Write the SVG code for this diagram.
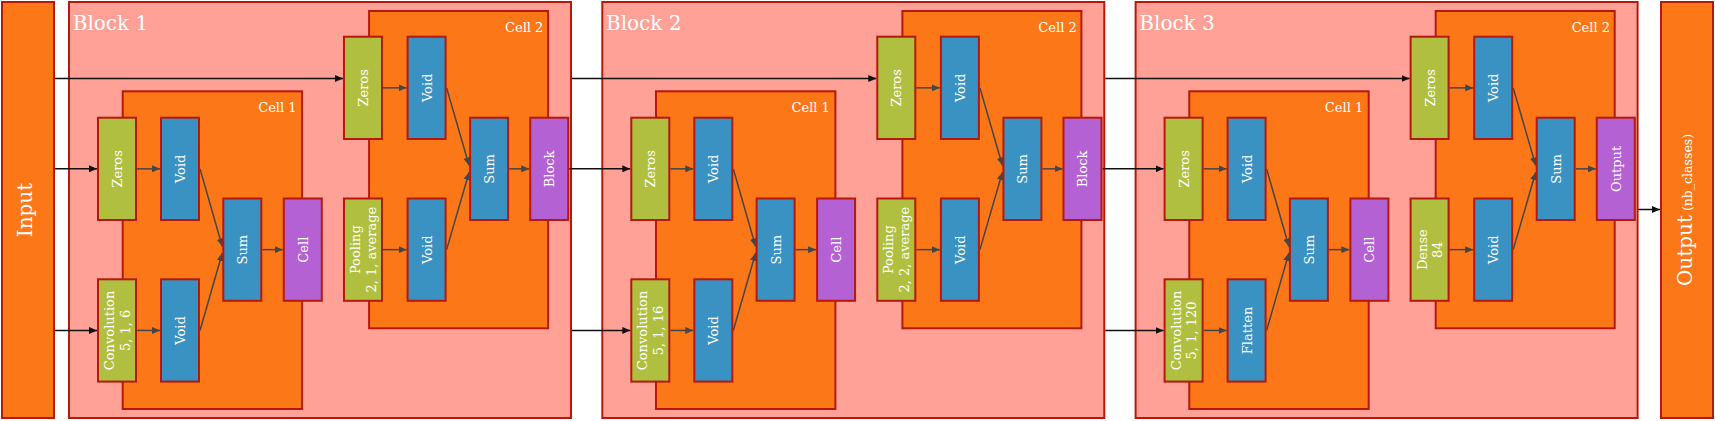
<svg xmlns="http://www.w3.org/2000/svg" width="1715" height="421" viewBox="0 0 1715 421">
<style>
text{font-family:"DejaVu Serif","Liberation Serif",serif;fill:#ffffff}
.n{stroke:#b5190c;stroke-width:2}
.blk{fill:#ffa197}
.org{fill:#fc7717}
.grn{fill:#b0bf40}
.blu{fill:#3a92c3}
.pur{fill:#b461d4}
.lbl{font-size:13px;text-anchor:middle}
.title{font-size:20px}
.cl{font-size:13px;text-anchor:end}
.big{font-size:20px;text-anchor:middle}
.ext{stroke:#111;stroke-width:1.5;fill:none;marker-end:url(#ah)}
.int{stroke:#454545;stroke-width:1.5;fill:none;marker-end:url(#ag)}
</style>
<defs>
<marker id="ah" markerUnits="userSpaceOnUse" markerWidth="8" markerHeight="7" refX="8" refY="3.5" orient="auto"><path d="M0,0 L8,3.5 L0,7 z" fill="#111"/></marker>
<marker id="ag" markerUnits="userSpaceOnUse" markerWidth="8" markerHeight="7" refX="8" refY="3.5" orient="auto"><path d="M0,0 L8,3.5 L0,7 z" fill="#454545"/></marker>
</defs>
<rect width="1715" height="421" fill="#ffffff"/>

<g id="input"><rect class="n org" x="2" y="2" width="52" height="416"/><text class="big" x="28" y="214" transform="rotate(-90 28 210)">Input</text></g>
<g id="output"><rect class="n org" x="1661" y="2" width="52" height="416"/><text class="big" x="1687" y="215" transform="rotate(-90 1687 210)">Output<tspan font-size="12.5"> (nb_classes)</tspan></text></g>

<!-- Block 1 -->
<g id="block1">
<rect class="n blk" x="69" y="2" width="502" height="416"/>
<text class="title" x="72.7" y="30">Block 1</text>
<g id="b1-cell1"><rect class="n org" x="122.7" y="91.3" width="179.4" height="317.7"/><text class="cl" x="296.6" y="112.3">Cell 1</text></g>
<g id="b1-cell2"><rect class="n org" x="369.1" y="11" width="179" height="317.3"/><text class="cl" x="543.4" y="32.3">Cell 2</text></g>
</g>
<g id="block2" transform="translate(533.3 0)">
<rect class="n blk" x="69" y="2" width="502" height="416"/>
<text class="title" x="72.7" y="30">Block 2</text>
<g id="b2-cell1"><rect class="n org" x="122.7" y="91.3" width="179.4" height="317.7"/><text class="cl" x="296.6" y="112.3">Cell 1</text></g>
<g id="b2-cell2"><rect class="n org" x="369.1" y="11" width="179" height="317.3"/><text class="cl" x="543.4" y="32.3">Cell 2</text></g>
</g>
<g id="block3" transform="translate(1066.6 0)">
<rect class="n blk" x="69" y="2" width="502" height="416"/>
<text class="title" x="72.7" y="30">Block 3</text>
<g id="b3-cell1"><rect class="n org" x="122.7" y="91.3" width="179.4" height="317.7"/><text class="cl" x="296.6" y="112.3">Cell 1</text></g>
<g id="b3-cell2"><rect class="n org" x="369.1" y="11" width="179" height="317.3"/><text class="cl" x="543.4" y="32.3">Cell 2</text></g>
</g>

<g id="connectors">
<line class="ext" x1="55" y1="78.5" x2="343" y2="78.5"/>
<line class="ext" x1="55" y1="168.85" x2="97" y2="168.85"/>
<line class="ext" x1="55" y1="330.45" x2="97" y2="330.45"/>
<line class="ext" x1="572" y1="78.5" x2="876.3" y2="78.5"/>
<line class="ext" x1="569.2" y1="168.85" x2="630.3" y2="168.85"/>
<line class="ext" x1="572" y1="330.45" x2="630.3" y2="330.45"/>
<line class="ext" x1="1105.3" y1="78.5" x2="1409.6" y2="78.5"/>
<line class="ext" x1="1102.5" y1="168.85" x2="1163.6" y2="168.85"/>
<line class="ext" x1="1105.3" y1="330.45" x2="1163.6" y2="330.45"/>
<line class="ext" x1="1638.3" y1="209.5" x2="1660" y2="209.5"/>
<g id="b1-conn">
<line class="int" x1="137" y1="168.85" x2="160" y2="168.85"/>
<line class="int" x1="137" y1="330.45" x2="160" y2="330.45"/>
<line class="int" x1="200" y1="168.85" x2="222.3" y2="246.5"/>
<line class="int" x1="200" y1="330.45" x2="222.3" y2="253"/>
<line class="int" x1="262.3" y1="249.65" x2="282.8" y2="249.65"/>
<line class="int" x1="383" y1="87.85" x2="406.6" y2="87.85"/>
<line class="int" x1="383" y1="249.65" x2="406.6" y2="249.65"/>
<line class="int" x1="446.6" y1="87.85" x2="469.1" y2="165.5"/>
<line class="int" x1="446.6" y1="249.65" x2="469.1" y2="172.2"/>
<line class="int" x1="509.1" y1="168.85" x2="529.2" y2="168.85"/>
</g>
<g id="b2-conn" transform="translate(533.3 0)">
<line class="int" x1="137" y1="168.85" x2="160" y2="168.85"/>
<line class="int" x1="137" y1="330.45" x2="160" y2="330.45"/>
<line class="int" x1="200" y1="168.85" x2="222.3" y2="246.5"/>
<line class="int" x1="200" y1="330.45" x2="222.3" y2="253"/>
<line class="int" x1="262.3" y1="249.65" x2="282.8" y2="249.65"/>
<line class="int" x1="383" y1="87.85" x2="406.6" y2="87.85"/>
<line class="int" x1="383" y1="249.65" x2="406.6" y2="249.65"/>
<line class="int" x1="446.6" y1="87.85" x2="469.1" y2="165.5"/>
<line class="int" x1="446.6" y1="249.65" x2="469.1" y2="172.2"/>
<line class="int" x1="509.1" y1="168.85" x2="529.2" y2="168.85"/>
</g>
<g id="b3-conn" transform="translate(1066.6 0)">
<line class="int" x1="137" y1="168.85" x2="160" y2="168.85"/>
<line class="int" x1="137" y1="330.45" x2="160" y2="330.45"/>
<line class="int" x1="200" y1="168.85" x2="222.3" y2="246.5"/>
<line class="int" x1="200" y1="330.45" x2="222.3" y2="253"/>
<line class="int" x1="262.3" y1="249.65" x2="282.8" y2="249.65"/>
<line class="int" x1="383" y1="87.85" x2="406.6" y2="87.85"/>
<line class="int" x1="383" y1="249.65" x2="406.6" y2="249.65"/>
<line class="int" x1="446.6" y1="87.85" x2="469.1" y2="165.5"/>
<line class="int" x1="446.6" y1="249.65" x2="469.1" y2="172.2"/>
<line class="int" x1="509.1" y1="168.85" x2="529.2" y2="168.85"/>
</g>
</g>

<!-- Block 1 nodes -->
<g id="b1-nodes">
<g id="b1-zeros1"><rect class="n grn" x="98" y="117.7" width="38" height="102.3"/><text class="lbl" x="117" y="173.85" transform="rotate(-90 117 168.85)">Zeros</text></g>
<g id="b1-void1"><rect class="n blu" x="161" y="117.7" width="38" height="102.3"/><text class="lbl" x="180" y="173.85" transform="rotate(-90 180 168.85)">Void</text></g>
<g id="b1-conv"><rect class="n grn" x="98" y="279.3" width="38" height="102.3"/><text class="lbl" transform="rotate(-90 117 330.45)"><tspan x="117" y="327.6">Convolution</tspan><tspan x="117" y="343.3">5, 1, 6</tspan></text></g>
<g id="b1-void2"><rect class="n blu" x="161" y="279.3" width="38" height="102.3"/><text class="lbl" x="180" y="335.45" transform="rotate(-90 180 330.45)">Void</text></g>
<g id="b1-sum1"><rect class="n blu" x="223.3" y="198.5" width="38" height="102.3"/><text class="lbl" x="242.3" y="254.65" transform="rotate(-90 242.3 249.65)">Sum</text></g>
<g id="b1-cell"><rect class="n pur" x="283.8" y="198.5" width="38" height="102.3"/><text class="lbl" x="302.8" y="254.65" transform="rotate(-90 302.8 249.65)">Cell</text></g>
<g id="b1-zeros2"><rect class="n grn" x="344" y="36.7" width="38" height="102.3"/><text class="lbl" x="363" y="92.85" transform="rotate(-90 363 87.85)">Zeros</text></g>
<g id="b1-void3"><rect class="n blu" x="407.6" y="36.7" width="38" height="102.3"/><text class="lbl" x="426.6" y="92.85" transform="rotate(-90 426.6 87.85)">Void</text></g>
<g id="b1-pool"><rect class="n grn" x="344" y="198.5" width="38" height="102.3"/><text class="lbl" transform="rotate(-90 363 249.65)"><tspan x="363" y="246.8">Pooling</tspan><tspan x="363" y="262.5">2, 1, average</tspan></text></g>
<g id="b1-void4"><rect class="n blu" x="407.6" y="198.5" width="38" height="102.3"/><text class="lbl" x="426.6" y="254.65" transform="rotate(-90 426.6 249.65)">Void</text></g>
<g id="b1-sum2"><rect class="n blu" x="470.1" y="117.7" width="38" height="102.3"/><text class="lbl" x="489.1" y="173.85" transform="rotate(-90 489.1 168.85)">Sum</text></g>
<g id="b1-block"><rect class="n pur" x="530.2" y="117.7" width="38" height="102.3"/><text class="lbl" x="549.2" y="173.85" transform="rotate(-90 549.2 168.85)">Block</text></g>
</g>

<!-- Block 2 nodes -->
<g id="b2-nodes" transform="translate(533.3 0)">
<g id="b2-zeros1"><rect class="n grn" x="98" y="117.7" width="38" height="102.3"/><text class="lbl" x="117" y="173.85" transform="rotate(-90 117 168.85)">Zeros</text></g>
<g id="b2-void1"><rect class="n blu" x="161" y="117.7" width="38" height="102.3"/><text class="lbl" x="180" y="173.85" transform="rotate(-90 180 168.85)">Void</text></g>
<g id="b2-conv"><rect class="n grn" x="98" y="279.3" width="38" height="102.3"/><text class="lbl" transform="rotate(-90 117 330.45)"><tspan x="117" y="327.6">Convolution</tspan><tspan x="117" y="343.3">5, 1, 16</tspan></text></g>
<g id="b2-void2"><rect class="n blu" x="161" y="279.3" width="38" height="102.3"/><text class="lbl" x="180" y="335.45" transform="rotate(-90 180 330.45)">Void</text></g>
<g id="b2-sum1"><rect class="n blu" x="223.3" y="198.5" width="38" height="102.3"/><text class="lbl" x="242.3" y="254.65" transform="rotate(-90 242.3 249.65)">Sum</text></g>
<g id="b2-cell"><rect class="n pur" x="283.8" y="198.5" width="38" height="102.3"/><text class="lbl" x="302.8" y="254.65" transform="rotate(-90 302.8 249.65)">Cell</text></g>
<g id="b2-zeros2"><rect class="n grn" x="344" y="36.7" width="38" height="102.3"/><text class="lbl" x="363" y="92.85" transform="rotate(-90 363 87.85)">Zeros</text></g>
<g id="b2-void3"><rect class="n blu" x="407.6" y="36.7" width="38" height="102.3"/><text class="lbl" x="426.6" y="92.85" transform="rotate(-90 426.6 87.85)">Void</text></g>
<g id="b2-pool"><rect class="n grn" x="344" y="198.5" width="38" height="102.3"/><text class="lbl" transform="rotate(-90 363 249.65)"><tspan x="363" y="246.8">Pooling</tspan><tspan x="363" y="262.5">2, 2, average</tspan></text></g>
<g id="b2-void4"><rect class="n blu" x="407.6" y="198.5" width="38" height="102.3"/><text class="lbl" x="426.6" y="254.65" transform="rotate(-90 426.6 249.65)">Void</text></g>
<g id="b2-sum2"><rect class="n blu" x="470.1" y="117.7" width="38" height="102.3"/><text class="lbl" x="489.1" y="173.85" transform="rotate(-90 489.1 168.85)">Sum</text></g>
<g id="b2-block"><rect class="n pur" x="530.2" y="117.7" width="38" height="102.3"/><text class="lbl" x="549.2" y="173.85" transform="rotate(-90 549.2 168.85)">Block</text></g>
</g>

<!-- Block 3 nodes -->
<g id="b3-nodes" transform="translate(1066.6 0)">
<g id="b3-zeros1"><rect class="n grn" x="98" y="117.7" width="38" height="102.3"/><text class="lbl" x="117" y="173.85" transform="rotate(-90 117 168.85)">Zeros</text></g>
<g id="b3-void1"><rect class="n blu" x="161" y="117.7" width="38" height="102.3"/><text class="lbl" x="180" y="173.85" transform="rotate(-90 180 168.85)">Void</text></g>
<g id="b3-conv"><rect class="n grn" x="98" y="279.3" width="38" height="102.3"/><text class="lbl" transform="rotate(-90 117 330.45)"><tspan x="117" y="327.6">Convolution</tspan><tspan x="117" y="343.3">5, 1, 120</tspan></text></g>
<g id="b3-flatten"><rect class="n blu" x="161" y="279.3" width="38" height="102.3"/><text class="lbl" x="180" y="335.45" transform="rotate(-90 180 330.45)">Flatten</text></g>
<g id="b3-sum1"><rect class="n blu" x="223.3" y="198.5" width="38" height="102.3"/><text class="lbl" x="242.3" y="254.65" transform="rotate(-90 242.3 249.65)">Sum</text></g>
<g id="b3-cell"><rect class="n pur" x="283.8" y="198.5" width="38" height="102.3"/><text class="lbl" x="302.8" y="254.65" transform="rotate(-90 302.8 249.65)">Cell</text></g>
<g id="b3-zeros2"><rect class="n grn" x="344" y="36.7" width="38" height="102.3"/><text class="lbl" x="363" y="92.85" transform="rotate(-90 363 87.85)">Zeros</text></g>
<g id="b3-void3"><rect class="n blu" x="407.6" y="36.7" width="38" height="102.3"/><text class="lbl" x="426.6" y="92.85" transform="rotate(-90 426.6 87.85)">Void</text></g>
<g id="b3-dense"><rect class="n grn" x="344" y="198.5" width="38" height="102.3"/><text class="lbl" transform="rotate(-90 363 249.65)"><tspan x="363" y="246.8">Dense</tspan><tspan x="363" y="262.5">84</tspan></text></g>
<g id="b3-void4"><rect class="n blu" x="407.6" y="198.5" width="38" height="102.3"/><text class="lbl" x="426.6" y="254.65" transform="rotate(-90 426.6 249.65)">Void</text></g>
<g id="b3-sum2"><rect class="n blu" x="470.1" y="117.7" width="38" height="102.3"/><text class="lbl" x="489.1" y="173.85" transform="rotate(-90 489.1 168.85)">Sum</text></g>
<g id="b3-output"><rect class="n pur" x="530.2" y="117.7" width="38" height="102.3"/><text class="lbl" x="549.2" y="173.85" transform="rotate(-90 549.2 168.85)">Output</text></g>
</g>
</svg>
